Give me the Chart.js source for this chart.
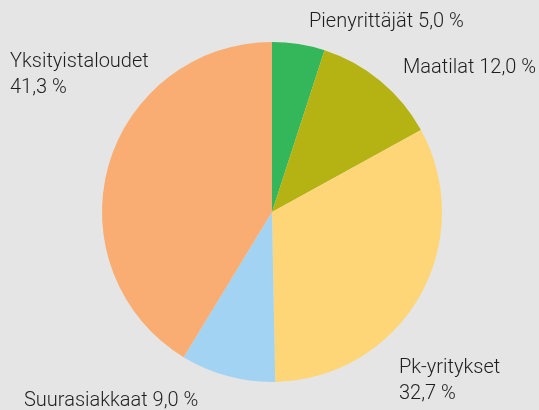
<!DOCTYPE html>
<html lang="fi">

<head>
    <meta charset="UTF-8">
    <title>Asiakasryhmät</title>
    <script src="https://cdn.jsdelivr.net/npm/chart.js@4.4.1/dist/chart.umd.min.js"></script>
    <style>
        html,
        body {
            margin: 0;
            background: #e5e5e5;
        }

        #wrap {
            width: 539px;
            height: 410px;
        }
    </style>
</head>

<body>
    <div id="wrap">
        <canvas id="pie"></canvas>
    </div>

    <script>
        const labels = ['Pienyrittäjät', 'Maatilat', 'Pk-yritykset', 'Suurasiakkaat', 'Yksityistaloudet'];
        const values = [5.0, 12.0, 32.7, 9.0, 41.3];
        const colors = ['#34b65a', '#b5b213', '#fed678', '#a3d3f2', '#f9ad72'];

        // where each label sits (x, baseline y, one or two lines)
        const labelPos = [
            { x: 309, y: 27, split: false },
            { x: 403, y: 73, split: false },
            { x: 399, y: 373, split: true },
            { x: 24, y: 406, split: false },
            { x: 10, y: 67, split: true }
        ];

        const fmt = v => v.toFixed(1).replace('.', ',') + ' %';

        const labelPlugin = {
            id: 'outLabels',
            afterDraw(chart) {
                const ctx = chart.ctx;
                ctx.save();
                ctx.font = '300 20px Roboto, "Liberation Sans", sans-serif';
                ctx.fillStyle = '#1e1e1e';
                ctx.textAlign = 'left';
                ctx.textBaseline = 'alphabetic';
                labels.forEach((l, i) => {
                    const p = labelPos[i];
                    if (p.split) {
                        ctx.fillText(l, p.x, p.y);
                        ctx.fillText(fmt(values[i]), p.x, p.y + 26);
                    } else {
                        ctx.fillText(l + ' ' + fmt(values[i]), p.x, p.y);
                    }
                });
                ctx.restore();
            }
        };

        new Chart(document.getElementById('pie'), {
            type: 'pie',
            data: {
                labels: labels,
                datasets: [{
                    data: values,
                    backgroundColor: colors,
                    borderWidth: 0
                }]
            },
            options: {
                responsive: true,
                maintainAspectRatio: false,
                animation: false,
                layout: {
                    padding: { left: 102, right: 97, top: 42, bottom: 28 }
                },
                plugins: {
                    legend: { display: false },
                    tooltip: { enabled: false }
                }
            },
            plugins: [labelPlugin]
        });
    </script>
</body>

</html>
